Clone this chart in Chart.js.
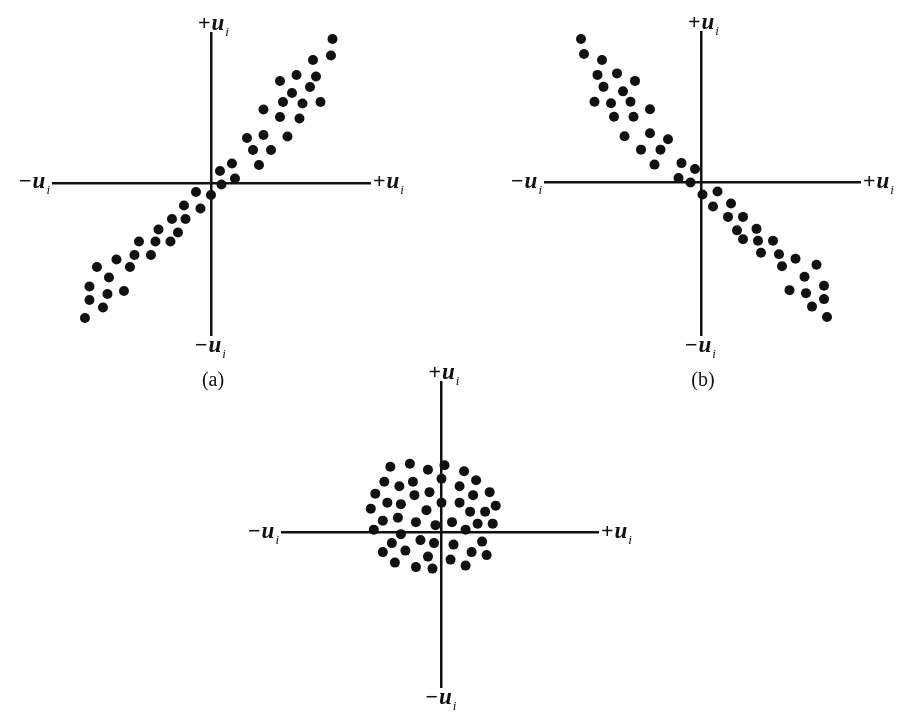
<!DOCTYPE html>
<html>
<head>
<meta charset="utf-8">
<script src="https://cdn.jsdelivr.net/npm/chart.js@4/dist/chart.umd.min.js"></script>
<style>
  html, body { margin: 0; padding: 0; background: #fff; }
  body { width: 902px; height: 713px; position: relative; overflow: hidden; }
  .panel { position: absolute; }
</style>
</head>
<body>
<div class="panel" style="left:0;top:0;"><canvas id="chartA" width="451" height="400"></canvas></div>
<div class="panel" style="left:451px;top:0;"><canvas id="chartB" width="451" height="400"></canvas></div>
<div class="panel" style="left:200px;top:350px;"><canvas id="chartC" width="502" height="363"></canvas></div>
<script>
// (a) positive autocorrelation
const aX = [8.1, 8.0, 6.8, 7.0, 5.7, 4.6, 5.4, 6.6, 4.8, 6.1, 7.3, 3.5, 4.6, 5.9, 3.5, 5.1, 2.4, 2.8, 4.0, 3.2, 1.4, 0.6, 0.7, 1.6, -1.0, 0.0, -1.8, -0.7, -2.6, -1.7, -3.5, -2.2, -4.8, -3.7, -2.7, -5.1, -4.0, -6.3, -7.6, -5.4, -6.8, -8.1, -6.9, -5.8, -8.1, -7.2, -8.4];
const aY = [9.6, 8.5, 8.2, 7.1, 7.2, 6.8, 6.0, 6.4, 5.4, 5.3, 5.4, 4.9, 4.4, 4.3, 3.2, 3.1, 3.0, 2.2, 2.2, 1.2, 1.3, 0.8, -0.1, 0.3, -0.6, -0.8, -1.5, -1.7, -2.4, -2.4, -3.1, -3.3, -3.9, -3.9, -3.9, -4.8, -4.8, -5.1, -5.6, -5.6, -6.3, -6.9, -7.4, -7.2, -7.8, -8.3, -9.0];

// (b) negative autocorrelation
const bX = [-8.0, -7.8, -6.6, -6.9, -5.6, -4.4, -6.5, -5.2, -7.1, -6.0, -4.7, -3.4, -5.8, -4.5, -5.1, -3.4, -2.2, -4.0, -2.7, -3.1, -1.3, -0.4, -1.5, -0.7, 0.1, 1.1, 0.8, 2.0, 1.8, 2.8, 2.4, 3.7, 2.8, 3.8, 4.8, 4.0, 5.2, 6.3, 5.4, 7.7, 6.9, 8.2, 5.9, 7.0, 8.2, 7.4, 8.4];
const bY = [9.6, 8.6, 8.2, 7.2, 7.3, 6.8, 6.4, 6.1, 5.4, 5.3, 5.4, 4.9, 4.4, 4.4, 3.1, 3.3, 2.9, 2.2, 2.2, 1.2, 1.3, 0.9, 0.3, 0.0, -0.8, -0.6, -1.6, -1.4, -2.3, -2.3, -3.2, -3.1, -3.8, -3.9, -3.9, -4.7, -4.8, -5.1, -5.6, -5.5, -6.3, -6.9, -7.2, -7.4, -7.8, -8.3, -9.0];

// (c) no autocorrelation
const cX = [-3.4, -2.1, -0.9, 0.2, 1.5, -3.8, -1.9, 0.0, 2.3, -2.8, -0.8, 1.2, -4.4, -1.8, 2.1, 3.2, -3.6, -2.7, 0.0, 1.2, 3.6, -4.7, -1.0, 1.9, 2.9, -3.9, -2.9, -1.7, -0.4, 0.7, 2.4, 3.4, -4.5, -2.7, 1.6, -1.4, -3.3, -0.5, 0.8, 2.7, -3.9, -2.4, -0.9, 2.0, 3.0, -3.1, -1.7, -0.6, 0.6, 1.6];
const cY = [4.4, 4.6, 4.2, 4.5, 4.1, 3.4, 3.4, 3.6, 3.5, 3.1, 2.7, 3.1, 2.6, 2.5, 2.5, 2.7, 2.0, 1.9, 2.0, 2.0, 1.8, 1.6, 1.5, 1.4, 1.4, 0.8, 1.0, 0.7, 0.5, 0.7, 0.6, 0.6, 0.2, -0.1, 0.2, -0.5, -0.7, -0.7, -0.8, -0.6, -1.3, -1.2, -1.6, -1.3, -1.5, -2.0, -2.3, -2.4, -1.8, -2.2];

// axis extents (min, max) per panel
const aRangeX = [-10.53, 10.6], aRangeY = [-10.13, 10];
const bRangeX = [-10.4, 10.6], bRangeY = [-10.2, 10.07];
const cRangeX = [-10.6, 10.4], cRangeY = [-10.3, 10.05];

const signPos = '+', signNeg = '\u2212';
const captions = ['(a)', '(b)', ''];

const INK = '#111';

// draws "±u" with a subscript i; x is the left edge unless alignRight
function drawU(ctx, sign, x, y, alignRight) {
    const signFont = 'bold 22px "Liberation Serif"';
    const uFont = 'bold italic 23px "Liberation Serif"';
    const subFont = 'italic 13px "Liberation Serif"';
    ctx.font = signFont;
    const ws = ctx.measureText(sign).width;
    ctx.font = uFont;
    const wu = ctx.measureText('u').width;
    ctx.font = subFont;
    const wi = ctx.measureText('i').width;
    const total = ws + 1 + wu + 1 + wi;
    const left = alignRight ? x - total : x;
    ctx.fillStyle = INK;
    ctx.textBaseline = 'alphabetic';
    ctx.textAlign = 'left';
    ctx.font = signFont;
    ctx.fillText(sign, left, y);
    ctx.font = uFont;
    ctx.fillText('u', left + ws + 1, y);
    ctx.font = subFont;
    ctx.fillText('i', left + ws + wu + 2, y + 6);
}

const axisLabels = {
    id: 'axisLabels',
    afterDraw: function (chart, args, opts) {
        const ctx = chart.ctx;
        const sx = chart.scales.x, sy = chart.scales.y;
        const ox = sx.getPixelForValue(0);
        const oy = sy.getPixelForValue(0);
        ctx.save();
        drawU(ctx, signPos, ox - 13, sy.top - 3, false);
        drawU(ctx, signNeg, ox - 16, sy.bottom + 17, false);
        drawU(ctx, signNeg, sx.left - 3, oy + 5, true);
        drawU(ctx, signPos, sx.right + 3, oy + 5, false);
        if (opts.caption) {
            ctx.fillStyle = INK;
            ctx.font = '20px "Liberation Serif"';
            ctx.textAlign = 'center';
            ctx.fillText(opts.caption, ox + 2, sy.bottom + 51);
        }
        ctx.restore();
    }
};

function renderQuadrant(canvasId, xs, ys, rangeX, rangeY, padding, caption) {
    const ctx = document.getElementById(canvasId);
    if (!ctx) return;

    const points = xs.map(function (x, i) { return { x: x, y: ys[i] }; });
    const axisStyle = {
        display: true,
        grid: { display: false },
        ticks: { display: false },
        border: { display: true, color: INK, width: 2.5 }
    };

    ctx._chart = new Chart(ctx, {
        type: 'scatter',
        data: {
            datasets: [{
                data: points,
                pointRadius: 5,
                pointHoverRadius: 5,
                pointBorderWidth: 0,
                pointBackgroundColor: INK,
                clip: false
            }]
        },
        options: {
            responsive: false,
            animation: false,
            events: [],
            layout: { padding: padding },
            plugins: {
                legend: { display: false },
                tooltip: { enabled: false },
                axisLabels: { caption: caption }
            },
            scales: {
                x: Object.assign({ type: 'linear', min: rangeX[0], max: rangeX[1], position: { y: 0 } }, axisStyle),
                y: Object.assign({ type: 'linear', min: rangeY[0], max: rangeY[1], position: { x: 0 } }, axisStyle)
            }
        },
        plugins: [axisLabels]
    });
}

renderQuadrant('chartA', aX, aY, aRangeX, aRangeY, { left: 53, top: 33, right: 81, bottom: 65 }, captions[0]);
renderQuadrant('chartB', bX, bY, bRangeX, bRangeY, { left: 94, top: 32, right: 42, bottom: 65 }, captions[1]);
renderQuadrant('chartC', cX, cY, cRangeX, cRangeY, { left: 82, top: 32, right: 104, bottom: 26 }, captions[2]);
</script>
</body>
</html>
